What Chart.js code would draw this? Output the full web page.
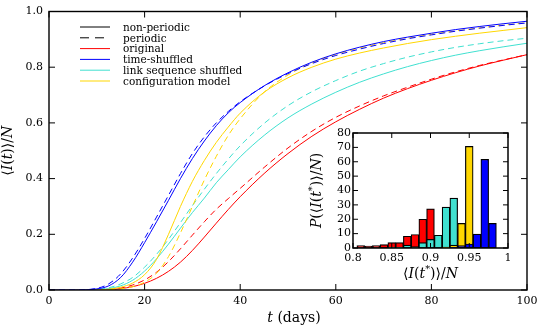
<!DOCTYPE html>
<html>
<head>
<meta charset="utf-8">
<script src="https://cdn.jsdelivr.net/npm/chart.js@4.4.0/dist/chart.umd.min.js"></script>
<style>
html, body { margin: 0; padding: 0; background: #fff; }
#wrap { position: relative; width: 544px; height: 327px; }
#mainChart { position: absolute; left: 0; top: 0; width: 544px; height: 327px; }
#insetChart { position: absolute; left: 290px; top: 120px; width: 240px; height: 170px; }
</style>
</head>
<body>
<div id="wrap">
  <canvas id="mainChart" width="544" height="327"></canvas>
  <canvas id="insetChart" width="240" height="170"></canvas>
</div>
<script>
// main plot: <I(t)>/N against t (days)
var days = [0, 5, 10, 12.5, 15, 17.5, 20, 22.5, 25, 27.5, 30, 32.5, 35, 37.5, 40, 45, 50, 55, 60, 65, 70, 75, 80, 85, 90, 95, 100];

var originalNonPeriodic = [0, 0, 0, 0.001, 0.005, 0.012, 0.024, 0.042, 0.067, 0.1, 0.142, 0.19, 0.24, 0.289, 0.335, 0.418, 0.49, 0.552, 0.604, 0.649, 0.689, 0.723, 0.753, 0.78, 0.804, 0.825, 0.845];
var originalPeriodic = [0, 0, 0, 0.002, 0.007, 0.018, 0.036, 0.064, 0.102, 0.148, 0.197, 0.245, 0.29, 0.328, 0.365, 0.44, 0.51, 0.57, 0.62, 0.661, 0.697, 0.728, 0.757, 0.783, 0.806, 0.826, 0.845];
var timeNonPeriodic = [0, 0, 0.004, 0.015, 0.045, 0.1, 0.17, 0.245, 0.322, 0.4, 0.472, 0.535, 0.59, 0.636, 0.673, 0.733, 0.78, 0.818, 0.848, 0.872, 0.892, 0.908, 0.922, 0.935, 0.946, 0.956, 0.965];
var timePeriodic = [0, 0, 0.006, 0.022, 0.058, 0.115, 0.185, 0.262, 0.34, 0.418, 0.49, 0.55, 0.6, 0.641, 0.676, 0.732, 0.777, 0.813, 0.842, 0.865, 0.885, 0.902, 0.916, 0.929, 0.94, 0.95, 0.959];
var linkNonPeriodic = [0, 0, 0.001, 0.005, 0.015, 0.035, 0.068, 0.112, 0.165, 0.222, 0.278, 0.33, 0.385, 0.432, 0.478, 0.555, 0.618, 0.668, 0.71, 0.746, 0.776, 0.802, 0.824, 0.843, 0.859, 0.873, 0.886];
var linkPeriodic = [0, 0, 0.002, 0.008, 0.022, 0.045, 0.082, 0.128, 0.182, 0.242, 0.303, 0.362, 0.418, 0.47, 0.518, 0.598, 0.662, 0.712, 0.752, 0.786, 0.813, 0.836, 0.855, 0.871, 0.884, 0.895, 0.904];
var configNonPeriodic = [0, 0, 0, 0.003, 0.01, 0.025, 0.055, 0.11, 0.2, 0.3, 0.39, 0.465, 0.53, 0.585, 0.635, 0.71, 0.762, 0.8, 0.829, 0.851, 0.869, 0.885, 0.899, 0.911, 0.922, 0.932, 0.942];
var configPeriodic = [0, 0, 0, 0.001, 0.004, 0.012, 0.028, 0.06, 0.12, 0.205, 0.3, 0.395, 0.48, 0.555, 0.615, 0.71, 0.772, 0.815, 0.846, 0.869, 0.888, 0.904, 0.918, 0.93, 0.941, 0.951, 0.96];

var xTicks = [0, 20, 40, 60, 80, 100];
var yTicks = [0, 0.2, 0.4, 0.6, 0.8, 1.0];

var legendLabels = ['non-periodic', 'periodic', 'original', 'time-shuffled', 'link sequence shuffled', 'configuration model'];
var legendColors = ['#000000', '#000000', '#ff0000', '#0000ff', '#40e0d0', '#ffd700'];
var legendDashed = [false, true, false, false, false, false];

// inset: histogram of <I(t*)>/N
var insetBins = [0.81, 0.82, 0.83, 0.84, 0.85, 0.86, 0.87, 0.88, 0.89, 0.90, 0.91, 0.92, 0.93, 0.94, 0.95, 0.96, 0.97, 0.98];
var histOriginal = [1.6, 1.4, 1.6, 2.3, 3.8, 3.8, 8.2, 9.4, 20, 27.2, 7, 1, 0, 0, 0, 0, 0, 0];
var histLink = [0, 0, 0, 0, 0.5, 0.5, 2, 1, 3.7, 6, 8.9, 28.4, 34.7, 13, 0, 0, 0, 0];
var histConfig = [0, 0, 0, 0, 0, 0, 0, 0, 0, 0, 0, 0.6, 2, 17.1, 70.7, 9, 0.6, 0];
var histTime = [0, 0, 0, 0, 0, 0, 0, 0, 0, 0, 0, 0, 0.5, 1.6, 2.8, 9.6, 61.7, 17.1];

var insetXTicks = [0.8, 0.85, 0.9, 0.95, 1.0];
var insetYTicks = [0, 10, 20, 30, 40, 50, 60, 70, 80];

var FAMILY = '"DejaVu Serif", serif';
var DASH = [6, 4];

function points(xs, ys) {
    return xs.map(function(x, i) { return {x: x, y: ys[i]}; });
}

function lineSet(values, color, dashed) {
    return {
        data: points(days, values),
        borderColor: color,
        backgroundColor: color,
        borderWidth: 1,
        borderDash: dashed ? DASH : [],
        pointRadius: 0,
        fill: false,
        cubicInterpolationMode: 'monotone'
    };
}

function barSet(values, color, order) {
    return {
        data: points(insetBins, values),
        backgroundColor: color,
        borderColor: '#000',
        borderWidth: 1.2,
        borderSkipped: false,
        grouped: false,
        barPercentage: 1,
        categoryPercentage: 1,
        order: order
    };
}

// text with italic / superscript pieces, centred on (cx, cy)
function richText(ctx, parts, cx, cy, size, angle) {
    ctx.save();
    ctx.translate(cx, cy);
    if (angle) ctx.rotate(angle);
    function fontOf(p) {
        var s = p.sup ? size * 0.7 : size;
        return (p.it ? 'italic ' : '') + s + 'px ' + FAMILY;
    }
    var total = 0;
    parts.forEach(function(p) {
        ctx.font = fontOf(p);
        p.w = ctx.measureText(p.t).width;
        total += p.w;
    });
    var x = -total / 2;
    ctx.textAlign = 'left';
    ctx.textBaseline = 'middle';
    ctx.fillStyle = '#000';
    parts.forEach(function(p) {
        ctx.font = fontOf(p);
        ctx.fillText(p.t, x, p.sup ? -size * 0.35 : 0);
        x += p.w;
    });
    ctx.restore();
}

// frame with inward ticks on all four sides
function drawFrame(chart, tickLen, frameWidth) {
    var ctx = chart.ctx;
    var a = chart.chartArea;
    var sx = chart.scales.x, sy = chart.scales.y;
    ctx.save();
    ctx.strokeStyle = '#000';
    ctx.lineWidth = 1;
    ctx.beginPath();
    sx.ticks.forEach(function(t) {
        var px = sx.getPixelForValue(t.value);
        ctx.moveTo(px, a.bottom); ctx.lineTo(px, a.bottom - tickLen);
        ctx.moveTo(px, a.top); ctx.lineTo(px, a.top + tickLen);
    });
    sy.ticks.forEach(function(t) {
        var py = sy.getPixelForValue(t.value);
        ctx.moveTo(a.left, py); ctx.lineTo(a.left + tickLen, py);
        ctx.moveTo(a.right, py); ctx.lineTo(a.right - tickLen, py);
    });
    ctx.stroke();
    ctx.lineWidth = frameWidth;
    ctx.strokeRect(a.left, a.top, a.right - a.left, a.bottom - a.top);
    ctx.restore();
}

var mainDecor = {
    id: 'mainDecor',
    afterDraw: function(chart) {
        var ctx = chart.ctx;
        var a = chart.chartArea;
        drawFrame(chart, 6, 1.4);

        // legend
        ctx.save();
        for (var i = 0; i < legendLabels.length; i++) {
            var y = 27 + i * 10.8;
            ctx.strokeStyle = legendColors[i];
            ctx.lineWidth = 1;
            ctx.setLineDash(legendDashed[i] ? [9, 6] : []);
            ctx.beginPath();
            ctx.moveTo(80, y); ctx.lineTo(110, y);
            ctx.stroke();
            ctx.setLineDash([]);
            ctx.fillStyle = '#000';
            ctx.font = '10.5px ' + FAMILY;
            ctx.textAlign = 'left';
            ctx.textBaseline = 'middle';
            ctx.fillText(legendLabels[i], 123, y + 1);
        }
        ctx.restore();

        // axis titles
        richText(ctx, [{t: 't', it: true}, {t: ' (days)'}], 294, 318, 14, 0);
        richText(ctx, [{t: '\u27E8'}, {t: 'I', it: true}, {t: '('}, {t: 't', it: true}, {t: ')\u27E9/'}, {t: 'N', it: true}],
            8, (a.top + a.bottom) / 2, 14, -Math.PI / 2);
    }
};

var insetDecor = {
    id: 'insetDecor',
    beforeDraw: function(chart) {
        var a = chart.chartArea;
        var ctx = chart.ctx;
        ctx.save();
        ctx.fillStyle = '#fff';
        ctx.fillRect(a.left, a.top, a.right - a.left, a.bottom - a.top);
        ctx.restore();
    },
    afterDraw: function(chart) {
        var ctx = chart.ctx;
        var a = chart.chartArea;
        drawFrame(chart, 5, 1.5);
        richText(ctx, [{t: '\u27E8'}, {t: 'I', it: true}, {t: '('}, {t: 't', it: true}, {t: '*', sup: true}, {t: ')\u27E9/'}, {t: 'N', it: true}],
            (a.left + a.right) / 2, 154, 14, 0);
        richText(ctx, [{t: 'P', it: true}, {t: '(\u27E8'}, {t: 'I', it: true}, {t: '('}, {t: 't', it: true}, {t: '*', sup: true}, {t: ')\u27E9/'}, {t: 'N', it: true}, {t: ')'}],
            27, (a.top + a.bottom) / 2, 14, -Math.PI / 2);
    }
};

var tickFont = {family: FAMILY, size: 11, lineHeight: 1};

new Chart(document.getElementById('mainChart').getContext('2d'), {
    type: 'line',
    data: {
        datasets: [
            lineSet(timeNonPeriodic, '#0000ff', false),
            lineSet(timePeriodic, '#0000ff', true),
            lineSet(configNonPeriodic, '#ffd700', false),
            lineSet(configPeriodic, '#ffd700', true),
            lineSet(linkNonPeriodic, '#40e0d0', false),
            lineSet(linkPeriodic, '#40e0d0', true),
            lineSet(originalNonPeriodic, '#ff0000', false),
            lineSet(originalPeriodic, '#ff0000', true)
        ]
    },
    options: {
        responsive: false,
        animation: false,
        layout: {padding: {left: 0, top: 6, right: 17, bottom: 0}},
        plugins: {legend: {display: false}, tooltip: {enabled: false}},
        scales: {
            x: {
                type: 'linear', min: 0, max: 100,
                afterBuildTicks: function(s) { s.ticks = xTicks.map(function(v) { return {value: v}; }); },
                afterFit: function(s) { s.height = 37; },
                grid: {display: false, drawTicks: false},
                border: {display: false},
                ticks: {padding: 6, color: '#000', font: tickFont, maxRotation: 0, autoSkip: false}
            },
            y: {
                type: 'linear', min: 0, max: 1,
                afterBuildTicks: function(s) { s.ticks = yTicks.map(function(v) { return {value: v}; }); },
                afterFit: function(s) { s.width = 49; },
                grid: {display: false, drawTicks: false},
                border: {display: false},
                ticks: {padding: 6, color: '#000', font: tickFont, callback: function(v) { return v.toFixed(1); }}
            }
        }
    },
    plugins: [mainDecor]
});

new Chart(document.getElementById('insetChart').getContext('2d'), {
    type: 'bar',
    data: {
        datasets: [
            barSet(histOriginal, '#ff0000', 4),
            barSet(histLink, '#40e0d0', 3),
            barSet(histConfig, '#ffd700', 2),
            barSet(histTime, '#0000ff', 1)
        ]
    },
    options: {
        responsive: false,
        animation: false,
        layout: {padding: {left: 0, top: 13, right: 22, bottom: 0}},
        plugins: {legend: {display: false}, tooltip: {enabled: false}},
        scales: {
            x: {
                type: 'linear', min: 0.8, max: 1.0, offset: false,
                afterBuildTicks: function(s) { s.ticks = insetXTicks.map(function(v) { return {value: v}; }); },
                afterFit: function(s) { s.height = 42; },
                grid: {display: false, drawTicks: false},
                border: {display: false},
                ticks: {padding: 5, color: '#000', font: tickFont, maxRotation: 0, autoSkip: false,
                    callback: function(v) { return String(parseFloat(v.toFixed(2))); }}
            },
            y: {
                type: 'linear', min: 0, max: 80,
                afterBuildTicks: function(s) { s.ticks = insetYTicks.map(function(v) { return {value: v}; }); },
                afterFit: function(s) { s.width = 63; },
                grid: {display: false, drawTicks: false},
                border: {display: false},
                ticks: {padding: 2, color: '#000', font: tickFont}
            }
        }
    },
    plugins: [insetDecor]
});
</script>
</body>
</html>
